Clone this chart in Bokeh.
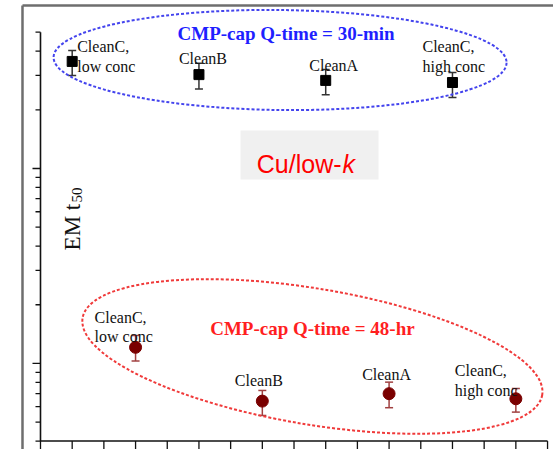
import math
from bokeh.plotting import figure
from bokeh.models import Range1d
from bokeh.core.properties import value
from bokeh.models import Whisker, TeeHead, ColumnDataSource
from bokeh.embed import file_html
from bokeh.resources import INLINE

# ---------------- data ----------------
samples = ["CleanC,\nlow conc", "CleanB", "CleanA", "CleanC,\nhigh conc"]
x_30min = [1, 5, 9, 13]
em_30min = [35.4, 30.3, 28.3, 27.6]
em_30min_hi = [40.3, 34.7, 32.2, 31.1]
em_30min_lo = [30.0, 25.6, 23.9, 23.1]
x_48hr = [3, 7, 11, 15]
em_48hr = [1.21, 0.641, 0.700, 0.659]
em_48hr_hi = [1.39, 0.727, 0.802, 0.744]
em_48hr_lo = [1.03, 0.541, 0.593, 0.563]
group_titles = ["CMP-cap Q-time = 30-min", "CMP-cap Q-time = 48-hr"]
panel_label = ["Cu/low-", "k"]
y_label = ["EM t", "50"]
x_ticks = list(range(0, 17))
y_major_ticks = [1, 10]
y_minor_ticks = [0.4, 0.5, 0.6, 0.7, 0.8, 0.9, 2, 3, 4, 5, 6, 7, 8, 9, 20, 30, 40, 50]

# annotation anchors (data coords)
ellipse_30min = (7.56, 36.0)
ellipse_48hr = (8.58, 1.086)
panel_anchor = (8.49, 11.73)
ylabel_anchor = (0, 3.80)
slide_frame = (-0.568, 68.5)   # left/top edge of the slide picture frame

SERIF = value("Liberation Serif")
SANS = value("Liberation Sans")

x_lo, x_hi = x_ticks[0], x_ticks[-1]
y_lo, y_hi = min(y_minor_ticks), max(y_minor_ticks)
X0, X1 = -1.262, 16.188
Y0, Y1 = 0.362, 72.7

p = figure(width=553, height=449,
           x_range=Range1d(X0, X1), y_range=Range1d(Y0, Y1),
           y_axis_type="log", output_backend="svg", toolbar_location=None,
           min_border_left=0, min_border_right=0, min_border_top=0, min_border_bottom=0)
p.axis.visible = False
p.outline_line_color = None
p.grid.visible = False
p.background_fill_color = "white"
p.border_fill_color = "white"

# slide frame (top and left edges)
p.line(x=[slide_frame[0], slide_frame[0]], y=[Y0, slide_frame[1]], line_color="#6e6e6e", line_width=2.5)
p.line(x=[slide_frame[0], X1], y=[slide_frame[1], slide_frame[1]], line_color="#6e6e6e", line_width=2.5)

AX = "#111111"
# axis lines
p.line(x=[x_lo, x_lo], y=[y_lo, y_hi], line_color=AX, line_width=1.6)
p.line(x=[x_lo, x_hi], y=[y_lo, y_lo], line_color=AX, line_width=1.6)
# ticks (outward)
p.ray(x=x_ticks, y=[y_lo] * len(x_ticks), length=10, length_units="screen",
      angle=-math.pi / 2, line_color=AX, line_width=1.3)
p.ray(x=[x_lo] * len(y_major_ticks), y=y_major_ticks, length=8, length_units="screen",
      angle=math.pi, line_color=AX, line_width=1.3)
p.ray(x=[x_lo] * len(y_minor_ticks), y=y_minor_ticks, length=5, length_units="screen",
      angle=math.pi, line_color=AX, line_width=1.3)

# ellipses
p.ellipse(x=[ellipse_30min[0]], y=[ellipse_30min[1]], width=453, height=100,
          width_units="screen", height_units="screen", angle=-0.012,
          fill_color=None, line_color="#4444ee", line_width=2, line_dash="3 2")
p.ellipse(x=[ellipse_48hr[0]], y=[ellipse_48hr[1]], width=466, height=136,
          width_units="screen", height_units="screen", angle=-0.166,
          fill_color=None, line_color="#f03a3a", line_width=2, line_dash="3 2")

# panel label box
p.rect(x=[panel_anchor[0]], y=[panel_anchor[1]], width=138, height=49,
       width_units="screen", height_units="screen",
       fill_color="#f0f0f0", line_color=None)
p.text(x=[panel_anchor[0]], y=[panel_anchor[1]], text=[panel_label[0]],
       x_offset=32, y_offset=9.5, text_align="right", text_baseline="alphabetic",
       text_font=SANS, text_font_size="25px", text_color="#ff0000")
p.text(x=[panel_anchor[0]], y=[panel_anchor[1]], text=[panel_label[1]],
       x_offset=33, y_offset=9.5, text_align="left", text_baseline="alphabetic",
       text_font=SANS, text_font_size="25px", text_font_style="italic", text_color="#ff0000")

# group titles
p.text(x=[ellipse_30min[0]], y=[ellipse_30min[1]], text=[group_titles[0]],
       x_offset=6, y_offset=-26.5, text_align="center", text_baseline="alphabetic",
       text_font=SERIF, text_font_size="19px", text_font_style="bold", text_color="#1f1fff")
p.text(x=[ellipse_48hr[0]], y=[ellipse_48hr[1]], text=[group_titles[1]],
       x_offset=0, y_offset=-28, text_align="center", text_baseline="alphabetic",
       text_font=SERIF, text_font_size="19px", text_font_style="bold", text_color="#ff1f1f")

# y label
p.text(x=[ylabel_anchor[0]], y=[ylabel_anchor[1]], text=[y_label[0]],
       x_offset=32, y_offset=0, angle=math.pi / 2, text_align="left",
       text_baseline="alphabetic", text_font=SERIF, text_font_size="23px", text_color="#111111")
p.text(x=[ylabel_anchor[0]], y=[ylabel_anchor[1]], text=[y_label[1]],
       x_offset=37, y_offset=-48, angle=math.pi / 2, text_align="left",
       text_baseline="alphabetic", text_font=SERIF, text_font_size="15px", text_color="#111111")

# error bars
def whisk(xs, lo, hi, color, width):
    src = ColumnDataSource(dict(x=xs, lo=lo, hi=hi))
    w = Whisker(source=src, base="x", lower="lo", upper="hi",
                line_color=color, line_width=width,
                upper_head=TeeHead(size=8, line_color=color, line_width=width),
                lower_head=TeeHead(size=8, line_color=color, line_width=width))
    p.add_layout(w)

whisk(x_30min, em_30min_lo, em_30min_hi, "#333333", 1.5)
whisk(x_48hr, em_48hr_lo, em_48hr_hi, "#a04040", 1.5)

p.scatter(x=x_30min, y=em_30min, marker="square", size=10,
          fill_color="black", line_color="black")
p.scatter(x=x_48hr, y=em_48hr, marker="circle", size=12,
          fill_color="#7a0000", line_color="#7a0000")

# sample labels: (align, dx, dy of first baseline)
lab_30 = [("left", 5, -14.5), ("center", 4, -16), ("center", 8, -15), ("left", -30, -36)]
lab_48 = [("left", -41, -30), ("center", -3.5, -20.7), ("center", -2.5, -19.3), ("left", -61, -28)]
LINE = 19.5
for xs, ys, labs in ((x_30min, em_30min, lab_30), (x_48hr, em_48hr, lab_48)):
    for xi, yi, name, (al, dx, dy) in zip(xs, ys, samples, labs):
        for k, line in enumerate(name.split("\n")):
            p.text(x=[xi], y=[yi], text=[line], x_offset=dx, y_offset=dy + LINE * k,
                   text_align=al, text_baseline="alphabetic",
                   text_font=SERIF, text_font_size="16px", text_color="#111111")

open("out.html", "w").write(file_html(p, INLINE))
